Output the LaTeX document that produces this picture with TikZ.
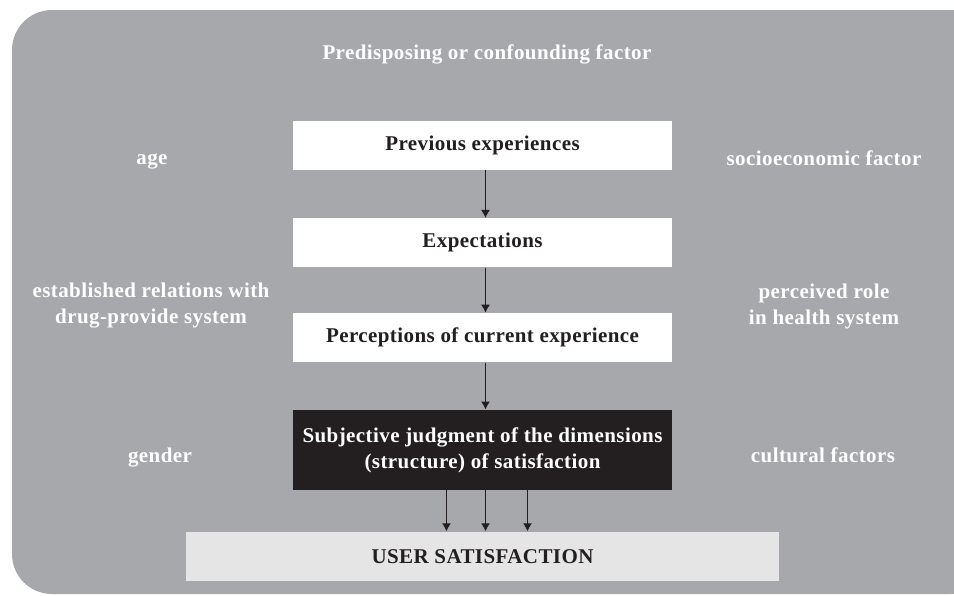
\documentclass[tikz,border=0pt]{standalone}
\usepackage{fontspec}
\setmainfont{Liberation Serif}[LetterSpace=2]
\usetikzlibrary{positioning,arrows.meta}

\definecolor{fondgris}{HTML}{A7A8AB}
\definecolor{noir}{HTML}{231F20}
\definecolor{grisclair}{HTML}{E5E5E5}

\tikzset{
  texte/.style={font=\bfseries\fontsize{10.5}{13}\selectfont, align=center, inner sep=0pt},
  boite/.style={texte, fill=white, text=noir, minimum width=189.5pt, minimum height=24.5pt},
  facteur/.style={texte, text=white},
  fleche/.style={-{Latex[length=4pt,width=4.5pt]},semithick,draw=noir}
}

\begin{document}
\begin{tikzpicture}[x=0.5pt,y=-0.5pt, node distance=24pt]
    \clip (0,0) rectangle (954,595);
    % Fond
    \fill[fondgris, rounded corners=20pt] (12,10) rectangle (990,594);

    % Boites
    \node[boite] (prev) at (482.5,145) {Previous experiences};
    \node[boite, below=of prev] (expect) {Expectations};
    \node[boite, below=22.5pt of expect] (percep) {Perceptions of current experience};
    \node[boite, below=23.5pt of percep, fill=noir, text=white, minimum height=40pt] (subj)
        {Subjective judgment of the dimensions\\(structure) of satisfaction};
    \node[boite, below=20.5pt of subj, fill=grisclair, minimum width=296.5pt] (user) {USER SATISFACTION};

    % Facteurs
    \node[facteur] (titre) at (487,54) {Predisposing or confounding factor};
    \node[facteur] (age) at (152,161) {age};
    \node[facteur] (socio) at (824,158) {socioeconomic factor};
    \node[facteur] (relat) at (151,306) {established relations with\\drug-provide system};
    \node[facteur] (role) at (824,306) {perceived role\\in health system};
    \node[facteur] (gender) at (160,458) {gender};
    \node[facteur] (cult) at (823,455) {cultural factors};

    % Fleches
    \draw[fleche] ([xshift=1.5pt]prev.south) -- ([xshift=1.5pt]expect.north);
    \draw[fleche] ([xshift=1.5pt]expect.south) -- ([xshift=1.5pt]percep.north);
    \draw[fleche] ([xshift=1.5pt]percep.south) -- ([xshift=1.5pt]subj.north);
    \draw[fleche] ([xshift=-18pt]subj.south) -- ([xshift=-18pt]user.north);
    \draw[fleche] ([xshift=1.5pt]subj.south) -- ([xshift=1.5pt]user.north);
    \draw[fleche] ([xshift=22.5pt]subj.south) -- ([xshift=22.5pt]user.north);
\end{tikzpicture}
\end{document}
